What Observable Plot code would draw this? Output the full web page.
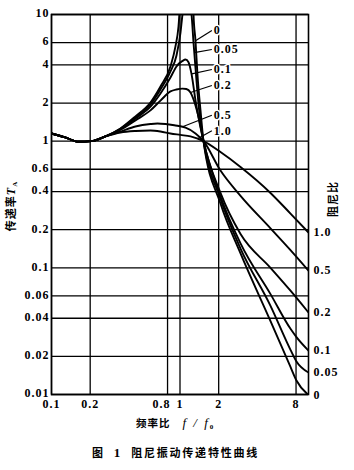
<!DOCTYPE html>
<html>
<head>
<meta charset="utf-8">
<script src="https://cdn.jsdelivr.net/npm/d3@7"></script>
<script src="https://cdn.jsdelivr.net/npm/@observablehq/plot@0.6"></script>
<style>
  body { margin: 0; background: #fff; }
  #chart svg { display: block; }
  #title {
    width: 354px; height: 30px; line-height: 24px; box-sizing: border-box;
    padding-left: 92px; white-space: nowrap;
    font-family: "Noto Sans CJK SC", sans-serif; font-weight: bold; font-size: 11px;
    letter-spacing: 1.8px; color: #000;
  }
</style>
</head>
<body>
<div id="chart"></div>
<div id="title"><span>图</span><span style="margin-left:9px;font-family:'Liberation Serif',serif;font-size:13px">1</span><span style="margin-left:9px">阻尼振动传递特性曲线</span></div>
<script>
// Tick values
const xTicks = [0.1, 0.2, 0.8, 1, 2, 8];
const yTicks = [10, 6, 4, 2, 1, 0.6, 0.4, 0.2, 0.1, 0.06, 0.04, 0.02, 0.01];

// Damping ratios (series names)
const dampingRatios = ["0", "0.05", "0.1", "0.2", "0.5", "1.0"];

// Shared low-frequency part of all curves: [f/f0, T_A]
const commonStart = [[0.1, 1.15], [0.128, 1.07], [0.162, 0.99], [0.205, 1.0], [0.263, 1.09]];

// Each curve: [f/f0, T_A]
const curveZeta0 = [[0.344, 1.26], [0.45, 1.57], [0.589, 2.02], [0.705, 2.7], [0.843, 3.89], [0.922, 5.6], [0.973, 8.0], [1.03, 20], [1.08, 40], [1.2, 40], [1.25, 20], [1.274, 10], [1.32, 6.2], [1.369, 3.3], [1.444, 1.75], [1.524, 1.0], [2.066, 0.322], [2.958, 0.13], [5.062, 0.038], [7.242, 0.0165], [8.06, 0.0129], [10, 0.0099]];
const curveZeta005 = [[0.344, 1.25], [0.45, 1.54], [0.589, 1.95], [0.705, 2.56], [0.843, 3.55], [0.939, 4.75], [1.009, 7.2], [1.046, 10], [1.1, 12.5], [1.17, 12.5], [1.229, 10], [1.274, 6.0], [1.344, 3.0], [1.418, 1.65], [1.524, 1.0], [2.066, 0.35], [2.958, 0.142], [5.062, 0.05], [7.242, 0.0225], [8.06, 0.0182], [10, 0.0149]];
const curveZeta01 = [[0.344, 1.24], [0.45, 1.51], [0.589, 1.87], [0.705, 2.38], [0.843, 3.18], [0.939, 3.89], [1.046, 4.3], [1.104, 4.41], [1.165, 4.2], [1.229, 3.4], [1.32, 2.1], [1.418, 1.4], [1.524, 1.0], [2.066, 0.366], [2.958, 0.156], [5.062, 0.062], [7.242, 0.033], [8.06, 0.0284], [10, 0.0222]];
const curveZeta02 = [[0.344, 1.23], [0.45, 1.46], [0.589, 1.75], [0.705, 2.09], [0.843, 2.47], [0.939, 2.56], [1.046, 2.6], [1.12, 2.58], [1.207, 2.42], [1.32, 1.91], [1.418, 1.44], [1.524, 1.0], [2.066, 0.39], [2.958, 0.185], [5.062, 0.1], [7.242, 0.066], [10, 0.0444]];
const curveZeta05 = [[0.344, 1.19], [0.45, 1.305], [0.589, 1.366], [0.668, 1.379], [0.771, 1.366], [0.922, 1.33], [1.046, 1.3], [1.104, 1.28], [1.32, 1.15], [1.524, 1.0], [2.066, 0.586], [2.958, 0.37], [5.062, 0.205], [7.242, 0.138], [10, 0.095]];
const curveZeta1 = [[0.344, 1.17], [0.45, 1.203], [0.589, 1.214], [0.705, 1.192], [0.843, 1.15], [1.009, 1.12], [1.207, 1.09], [1.524, 1.0], [2.066, 0.82], [2.958, 0.625], [5.062, 0.39], [7.242, 0.268], [10, 0.19]];

// Peak-area labels: curve point where the leader starts, and label level
const peakLabels = ["0", "0.05", "0.1", "0.2", "0.5", "1.0"];
const leaderStartF = [1.32, 1.29, 1.235, 1.207, 1.046, 1.37];
const leaderStartT = [6.2, 5.0, 3.4, 2.42, 1.3, 1.045];
const labelT = [7.48, 5.29, 3.68, 2.75, 1.6, 1.21];
const leaderEndF = 1.77;
const labelF = 1.83;

const curves = [curveZeta0, curveZeta005, curveZeta01, curveZeta02, curveZeta05, curveZeta1];
const rows = curves.flatMap((c, i) =>
  [...commonStart, ...c].map(([f, t]) => ({zeta: dampingRatios[i], f, t})));
const ends = curves.map((c, i) => ({zeta: dampingRatios[i], f: c[c.length - 1][0], t: c[c.length - 1][1]}));
const leaders = peakLabels.map((label, i) => ({
  label, f0: leaderStartF[i], t0: leaderStartT[i], f1: leaderEndF, t1: labelT[i]
}));

const xLabelOpts = {frameAnchor: "bottom", lineAnchor: "top", dy: 5, text: d => String(d), fill: "black"};

const svg = Plot.plot({
  width: 354,
  height: 440,
  marginLeft: 51,
  marginRight: 46,
  marginTop: 14,
  marginBottom: 46,
  style: "font-family:'Liberation Serif',serif;font-size:12px;font-weight:bold;letter-spacing:1px;background:#fff;overflow:visible;color:#000;",
  x: {type: "log", domain: [0.1, 10], label: null, axis: null},
  y: {type: "log", domain: [0.01, 10], label: null, axis: null},
  marks: [
    Plot.gridX(xTicks, {stroke: "black", strokeOpacity: 1, strokeWidth: 1.3}),
    Plot.gridY(yTicks, {stroke: "black", strokeOpacity: 1, strokeWidth: 1.3}),
    Plot.frame({stroke: "black", strokeWidth: 1.6}),
    Plot.text(xTicks.filter(d => d !== 0.8), {x: d => d, ...xLabelOpts}),
    Plot.text(xTicks.filter(d => d === 0.8), {x: d => d, ...xLabelOpts, dx: -6}),
    Plot.text(yTicks, {y: d => d, frameAnchor: "left", textAnchor: "end", dx: -2, dy: -1, text: d => String(d), fill: "black"}),
    Plot.line(rows, {x: "f", y: "t", z: "zeta", stroke: "black", strokeWidth: 1.9, curve: "monotone-x", clip: true}),
    Plot.link(leaders, {x1: "f0", y1: "t0", x2: "f1", y2: "t1", stroke: "black", strokeWidth: 1.2}),
    Plot.text(leaders, {x: () => labelF, y: "t1", text: "label", textAnchor: "start", fill: "black", stroke: "white", strokeWidth: 3}),
    Plot.text(ends, {x: "f", y: "t", text: "zeta", textAnchor: "start", dx: 5, fill: "black"})
  ]
});

const s = d3.select(svg);
// Y axis title
const yl = s.append("text")
  .attr("transform", "translate(15,206) rotate(-90)")
  .attr("text-anchor", "middle")
  .attr("fill", "black");
yl.append("tspan").text("传递率")
  .style("font-family", "'Noto Sans CJK SC', sans-serif").style("font-size", "11px").style("font-weight", "bold").style("letter-spacing", "1px");
yl.append("tspan").text("T")
  .style("font-family", "'Liberation Serif', serif").style("font-style", "italic").style("font-size", "12px");
yl.append("tspan").text("A").attr("dy", 2)
  .style("font-family", "'Liberation Serif', serif").style("font-size", "7px");

// Right title
s.append("text")
  .attr("transform", "translate(337,199) rotate(-90)")
  .attr("text-anchor", "middle")
  .attr("fill", "black")
  .style("font-family", "'Noto Sans CJK SC', sans-serif").style("font-size", "11px").style("font-weight", "bold").style("letter-spacing", "1px")
  .text("阻尼比");

// X axis title
const xl = s.append("text").attr("x", 136).attr("y", 427).attr("text-anchor", "start").attr("fill", "black");
xl.append("tspan").text("频率比")
  .style("font-family", "'Noto Sans CJK SC', sans-serif").style("font-size", "10.5px").style("font-weight", "bold").style("letter-spacing", "1px");
xl.append("tspan").attr("dx", 12).text("f / f")
  .style("font-family", "'Liberation Serif', serif").style("font-style", "italic").style("font-size", "13px").style("font-weight", "normal").style("letter-spacing", "2px");
xl.append("tspan").attr("dy", 2).text("0")
  .style("font-family", "'Liberation Serif', serif").style("font-size", "7px");

document.getElementById("chart").appendChild(svg);
</script>
</body>
</html>
